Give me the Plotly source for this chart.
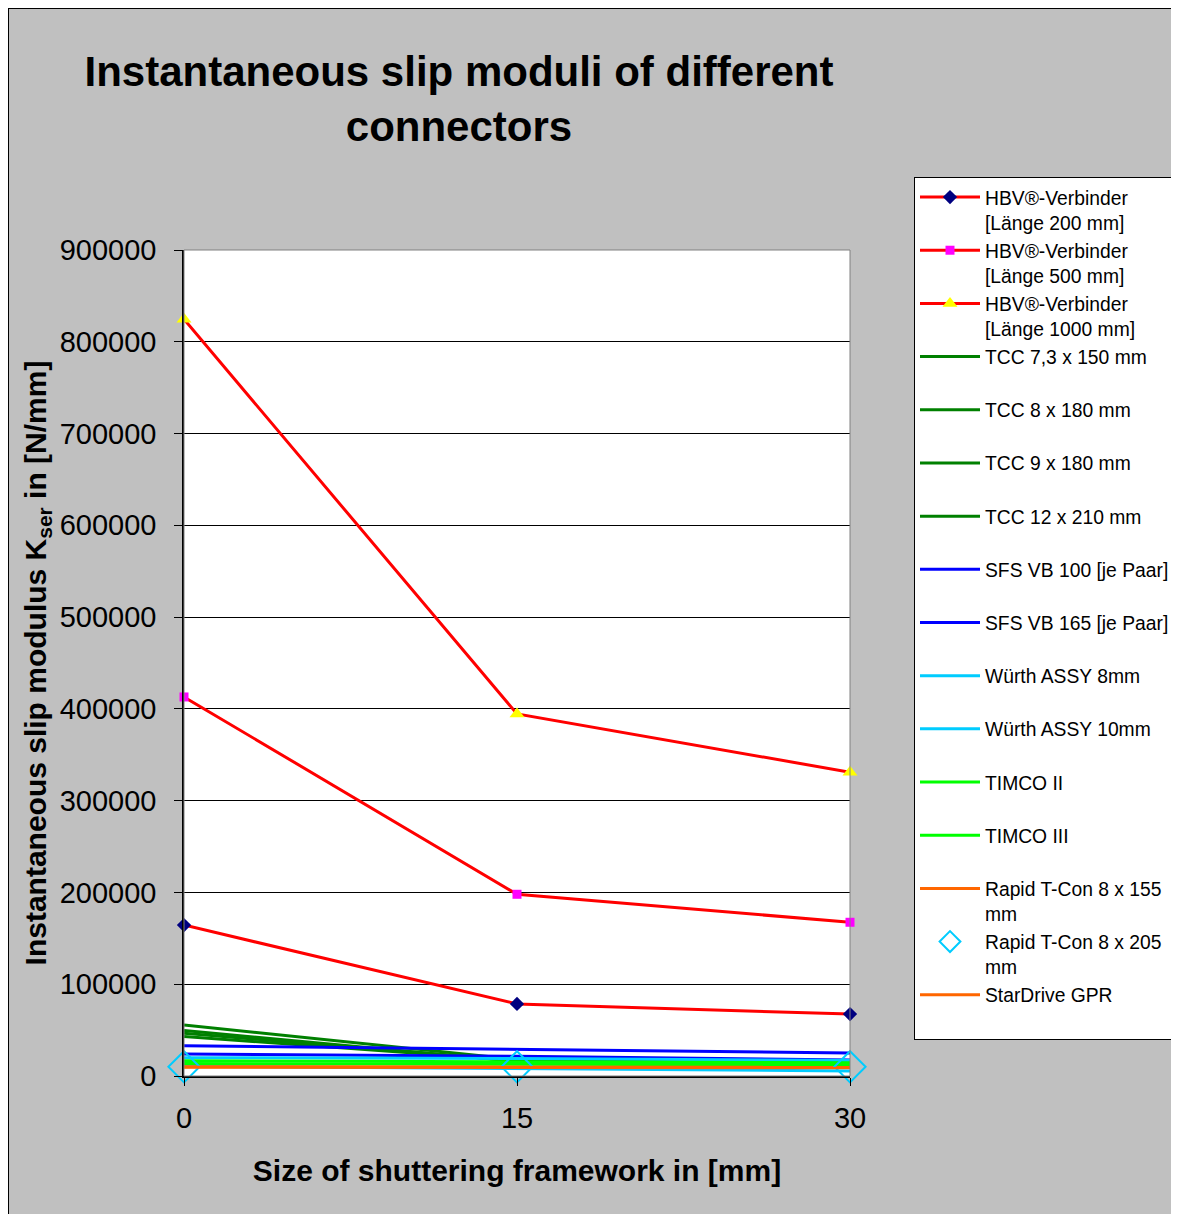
import plotly.graph_objects as go

# ---- data ----
x_vals = [0, 15, 30]
hbv_200 = [164500, 78500, 67500]
hbv_500 = [413000, 198000, 167500]
hbv_1000 = [824500, 394500, 331000]
tcc_73_150 = [43000, 17000, 14000]
tcc_8_180 = [46500, 16500, 13500]
tcc_9_180 = [49500, 16000, 13000]
tcc_12_210 = [55500, 18000, 15000]
sfs_vb_100 = [33000, 29000, 25000]
sfs_vb_165 = [24000, 21500, 17500]
wuerth_8 = [20000, 19000, 17000]
wuerth_10 = [10500, 8000, 5500]
timco_2 = [16500, 15500, 14500]
timco_3 = [13500, 12500, 12000]
rapid_155 = [10000, 10000, 9500]
rapid_205 = [10000, 10000, 10000]
stardrive = [9500, 9000, 9000]

names = [
    "HBV®-Verbinder<br>[Länge 200 mm]",
    "HBV®-Verbinder<br>[Länge 500 mm]",
    "HBV®-Verbinder<br>[Länge 1000 mm]",
    "TCC 7,3 x 150 mm<br> ",
    "TCC 8 x 180 mm<br> ",
    "TCC 9 x 180 mm<br> ",
    "TCC 12 x 210 mm<br> ",
    "SFS VB 100 [je Paar]<br> ",
    "SFS VB 165 [je Paar]<br> ",
    "Würth ASSY 8mm<br> ",
    "Würth ASSY 10mm<br> ",
    "TIMCO II<br> ",
    "TIMCO III<br> ",
    "Rapid T-Con 8 x 155<br>mm",
    "Rapid T-Con 8 x 205<br>mm",
    "StarDrive GPR<br> ",
]
series = [hbv_200, hbv_500, hbv_1000, tcc_73_150, tcc_8_180, tcc_9_180, tcc_12_210,
          sfs_vb_100, sfs_vb_165, wuerth_8, wuerth_10, timco_2, timco_3,
          rapid_155, rapid_205, stardrive]

RED = "#FF0000"
GREEN = "#008000"
BLUE = "#0000FF"
CYAN = "#00CCFF"
LIME = "#00FF00"
ORANGE = "#FF6600"

styles = [
    dict(mode="lines+markers", line=RED, marker=dict(symbol="diamond", size=11, color="#000080")),
    dict(mode="lines+markers", line=RED, marker=dict(symbol="square", size=9, color="#FF00FF")),
    dict(mode="lines+markers", line=RED, marker=dict(symbol="triangle-up", size=13, color="#FFFF00")),
    dict(mode="lines", line=GREEN),
    dict(mode="lines", line=GREEN),
    dict(mode="lines", line=GREEN),
    dict(mode="lines", line=GREEN),
    dict(mode="lines", line=BLUE),
    dict(mode="lines", line=BLUE),
    dict(mode="lines", line=CYAN),
    dict(mode="lines", line=CYAN),
    dict(mode="lines", line=LIME),
    dict(mode="lines", line=LIME),
    dict(mode="lines", line=ORANGE),
    dict(mode="markers", line=None, marker=dict(symbol="diamond-open", size=24, color=CYAN,
                                                line=dict(width=2, color=CYAN))),
    dict(mode="lines", line=ORANGE),
]

fig = go.Figure()
for nm, ys, st in zip(names, series, styles):
    kw = dict(x=x_vals, y=ys, name=nm, mode=st["mode"], cliponaxis=False)
    if st["line"]:
        kw["line"] = dict(color=st["line"], width=3)
    if "marker" in st:
        kw["marker"] = st["marker"]
    fig.add_trace(go.Scatter(**kw))

W, H = 1190, 1206
FONT = "Liberation Sans, Arial, sans-serif"
PW = 666  # plot width in px
PH = 826  # plot height in px

fig.update_layout(
    width=W, height=H,
    margin=dict(l=176, r=W - 842, t=242, b=H - 1068),
    paper_bgcolor="#C0C0C0",
    plot_bgcolor="#FFFFFF",
    font=dict(family=FONT, color="#000000"),
    title=dict(
        text="<b>Instantaneous slip moduli of different<br>connectors</b>",
        font=dict(size=42, family=FONT, color="#000000"),
        x=451 / W, xanchor="center", xref="container",
        y=1 - 78 / H, yanchor="top", yref="container",
    ),
    showlegend=True,
    legend=dict(
        x=906 / W, xanchor="left", xref="container",
        y=1 - 169 / H, yanchor="top", yref="container",
        maxheight=1000,
        bgcolor="#FFFFFF", bordercolor="#000000", borderwidth=1,
        font=dict(size=19.3, family=FONT, color="#000000"),
        valign="top", traceorder="normal", itemwidth=60,
    ),
    xaxis=dict(
        range=[0, 30], tickvals=x_vals, ticktext=["0", "15", "30"],
        ticks="outside", ticklen=8, tickcolor="#000000", tickwidth=1,
        showline=True, linecolor="#000000", linewidth=1.5,
        showgrid=False, zeroline=False,
        tickfont=dict(size=29, family=FONT),
        ticklabelstandoff=7,
        title=dict(text="<b>Size of shuttering framework in [mm]</b>",
                   font=dict(size=30, family=FONT), standoff=27),
    ),
    yaxis=dict(
        range=[0, 900000], dtick=100000, tickformat="d",
        ticks="outside", ticklen=8, tickcolor="#000000", tickwidth=1,
        showline=True, linecolor="#000000", linewidth=1.5,
        showgrid=True, gridcolor="#000000", gridwidth=1,
        zeroline=False,
        tickfont=dict(size=29, family=FONT),
        ticklabelstandoff=12,
        title=dict(text="<b>Instantaneous slip modulus K<sub>ser</sub> in [N/mm]</b>",
                   font=dict(size=30, family=FONT), standoff=4),
    ),
    shapes=[
        dict(type="rect", xref="paper", yref="paper", x0=0, x1=1, y0=0, y1=1,
             line=dict(color="#808080", width=1), layer="above"),
        dict(type="line", xref="paper", yref="paper", x0=-176 / PW, x1=-176 / PW,
             y0=-(H - 1068) / PH, y1=1 + 242 / PH, line=dict(color="#000000", width=2)),
        dict(type="line", xref="paper", yref="paper", x0=-176 / PW, x1=1 + (W - 842) / PW,
             y0=1 + 242 / PH, y1=1 + 242 / PH, line=dict(color="#000000", width=2)),
    ],
)

fig.write_html(
    "out.html",
    post_script="document.documentElement.style.overflow='hidden';document.body.style.overflow='hidden';",
)
